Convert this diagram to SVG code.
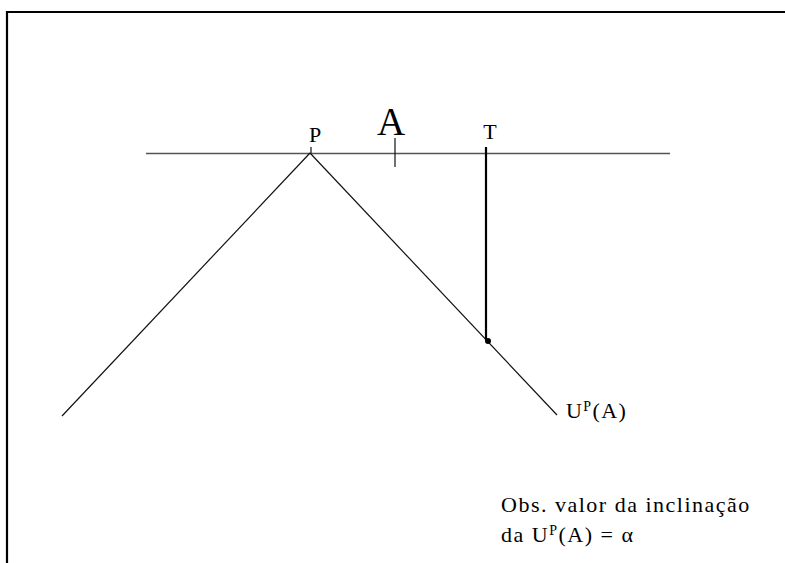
<svg xmlns="http://www.w3.org/2000/svg" width="785" height="563" viewBox="0 0 785 563">
<style>
  text { font-family: 'Liberation Serif', 'DejaVu Serif', serif; fill: #000; }
  .ln { stroke: #111; stroke-width: 1.2; fill: none; }
  .gray { stroke: #555; stroke-width: 1.5; fill: none; }
</style>
<rect width="785" height="563" fill="#fff"/>
<g id="frame" stroke="#000" stroke-width="2.2" fill="none">
  <polyline points="7,563 7,12 785,12"/>
</g>
<g id="connectors">
  <line class="gray" x1="146" y1="153.5" x2="670" y2="153.5"/>
  <line class="ln" x1="62" y1="416" x2="310" y2="153"/>
  <line class="ln" x1="310" y1="153" x2="557" y2="415"/>
  <line class="ln" x1="311" y1="147" x2="311" y2="153"/>
  <line class="ln" x1="395" y1="138" x2="395" y2="167"/>
  <line stroke="#000" stroke-width="2.2" x1="486" y1="147" x2="486" y2="340"/>
  <circle cx="488" cy="341" r="3" fill="#000"/>
</g>
<g id="P"><text x="315" y="142" font-size="22" text-anchor="middle">P</text></g>
<g id="A"><text x="391" y="135" font-size="39" text-anchor="middle">A</text></g>
<g id="T"><text x="490" y="139" font-size="22" text-anchor="middle">T</text></g>
<g id="UPA"><text x="566" y="418" font-size="22" letter-spacing="1.4">U<tspan font-size="14" dy="-7">P</tspan><tspan dy="7">(A)</tspan></text></g>
<g id="obs">
  <text x="501" y="512" font-size="22" letter-spacing="1.5">Obs. valor da inclinação</text>
  <text x="501" y="542" font-size="22" letter-spacing="1.5">da U<tspan font-size="14" dy="-7">P</tspan><tspan dy="7">(A) = α</tspan></text>
</g>
</svg>
